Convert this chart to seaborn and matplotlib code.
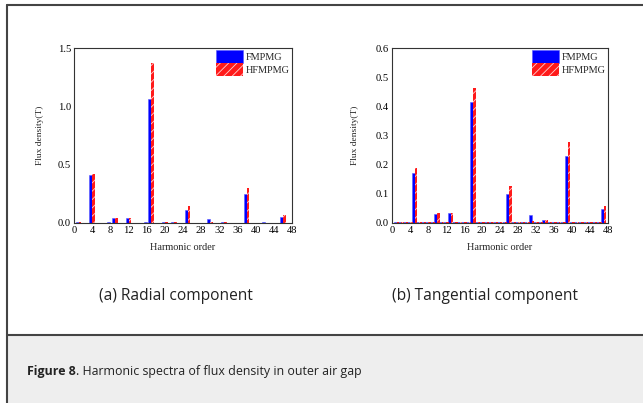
import numpy as np
import pandas as pd
import matplotlib
matplotlib.use("Agg")
import matplotlib.pyplot as plt
import seaborn as sns
from matplotlib.patches import Rectangle, Patch
from matplotlib.lines import Line2D
from matplotlib.ticker import MultipleLocator, FormatStrFormatter

# ---------------- data ----------------
harmonics = list(range(1, 48))

radial_fmpmg = [0.008, 0.003, 0.002, 0.415, 0.003, 0.004, 0.002, 0.006, 0.040, 0.004,
                0.002, 0.043, 0.003, 0.004, 0.002, 0.006, 1.064, 0.004, 0.002, 0.006,
                0.002, 0.005, 0.002, 0.004, 0.109, 0.003, 0.002, 0.004, 0.003, 0.032,
                0.002, 0.003, 0.012, 0.003, 0.002, 0.004, 0.003, 0.247, 0.003, 0.004,
                0.003, 0.005, 0.002, 0.004, 0.003, 0.054, 0.003]
radial_hfmpmg = [0.006, 0.003, 0.002, 0.420, 0.003, 0.003, 0.002, 0.004, 0.043, 0.003,
                 0.002, 0.040, 0.003, 0.003, 0.002, 0.004, 1.375, 0.003, 0.002, 0.005,
                 0.002, 0.006, 0.002, 0.003, 0.143, 0.003, 0.002, 0.003, 0.003, 0.005,
                 0.002, 0.003, 0.010, 0.003, 0.002, 0.003, 0.003, 0.301, 0.003, 0.003,
                 0.003, 0.004, 0.002, 0.003, 0.003, 0.067, 0.003]

tangential_fmpmg = [0.002, 0.002, 0.002, 0.003, 0.170, 0.003, 0.002, 0.003, 0.003, 0.030,
                    0.002, 0.003, 0.033, 0.002, 0.003, 0.002, 0.003, 0.414, 0.002, 0.005,
                    0.002, 0.004, 0.004, 0.002, 0.003, 0.100, 0.003, 0.004, 0.002, 0.004,
                    0.028, 0.003, 0.002, 0.011, 0.002, 0.003, 0.002, 0.003, 0.231, 0.003,
                    0.002, 0.004, 0.002, 0.004, 0.002, 0.004, 0.049]
tangential_hfmpmg = [0.002, 0.004, 0.002, 0.002, 0.187, 0.004, 0.002, 0.003, 0.005, 0.036,
                     0.002, 0.003, 0.036, 0.002, 0.003, 0.002, 0.003, 0.462, 0.002, 0.003,
                     0.002, 0.004, 0.004, 0.002, 0.003, 0.127, 0.004, 0.005, 0.002, 0.005,
                     0.008, 0.003, 0.002, 0.009, 0.002, 0.003, 0.002, 0.004, 0.279, 0.004,
                     0.002, 0.005, 0.002, 0.005, 0.002, 0.005, 0.057]

series_names = ["FMPMG", "HFMPMG"]
series_colors = {"FMPMG": "#0000ff", "HFMPMG": "#ff1a1a"}

x_ticks = list(range(0, 49, 4))
radial_yticks = [0.0, 0.5, 1.0, 1.5]
tangential_yticks = [0.0, 0.1, 0.2, 0.3, 0.4, 0.5, 0.6]

caption_bold = "Figure 8"
caption_rest = ". Harmonic spectra of flux density in outer air gap"
sub_a = "(a) Radial component"
sub_b = "(b) Tangential component"

# ---------------- figure ----------------
sns.set_style("white")
plt.rcParams["font.family"] = ["Liberation Serif", "DejaVu Serif"]
plt.rcParams["hatch.linewidth"] = 0.6

W, H = 643, 403
fig = plt.figure(figsize=(W / 100, H / 100), dpi=100)
fig.patch.set_facecolor("white")


def fx(x):
    return x / W


def fy(y):
    return 1 - y / H


# caption background and frame
fig.add_artist(Rectangle((fx(8), 0), 1 - fx(8), fy(335), transform=fig.transFigure,
                         facecolor="#eeeeee", edgecolor="none", zorder=0))
frame_kw = dict(transform=fig.transFigure, color="#444444", linewidth=1.5, zorder=5)
fig.add_artist(Line2D([fx(7), fx(7)], [0, fy(5)], **frame_kw))
fig.add_artist(Line2D([fx(7), 1], [fy(5), fy(5)], **frame_kw))
fig.add_artist(Line2D([fx(7), 1], [fy(335), fy(335)], **frame_kw))


def make_df(vals_a, vals_b):
    return pd.DataFrame({
        "Harmonic": harmonics * 2,
        "Flux": list(vals_a) + list(vals_b),
        "Series": [series_names[0]] * len(harmonics) + [series_names[1]] * len(harmonics),
    })


def draw_panel(rect, vals_a, vals_b, ymax, yticks, ylabel_x):
    left, top, right, bottom = rect
    ax = fig.add_axes([fx(left), fy(bottom), fx(right - left), (bottom - top) / H])
    df = make_df(vals_a, vals_b)
    sns.barplot(data=df, x="Harmonic", y="Flux", hue="Series", native_scale=True,
                palette=series_colors, width=1.25, dodge=True, errorbar=None,
                saturation=1, linewidth=0, legend=False, ax=ax)
    for p in ax.containers[0]:
        p.set_edgecolor("#5a5aff")
        p.set_linewidth(0.4)
    for p in ax.containers[1]:
        p.set_hatch("////")
        p.set_edgecolor("#ffd0d0")
        p.set_linewidth(0)
    ax.set_xlim(0, 48)
    ax.set_ylim(0, ymax)
    ax.set_xticks(x_ticks)
    ax.set_xticklabels([str(t) for t in x_ticks])
    ax.set_yticks(yticks)
    ax.yaxis.set_major_formatter(FormatStrFormatter("%.1f"))
    ax.xaxis.set_minor_locator(MultipleLocator(2))
    ax.yaxis.set_minor_locator(MultipleLocator(yticks[1] / 2))
    ax.tick_params(which="both", direction="in", labelsize=7.6, pad=2,
                   top=False, right=False, colors="#222222", labelcolor="black")
    ax.tick_params(which="major", length=3.5, width=0.6)
    ax.tick_params(which="minor", length=2, width=0.5)
    for s in ax.spines.values():
        s.set_color("#333333")
        s.set_linewidth(0.8)
        s.set_visible(True)
    ax.set_xlabel("Harmonic order", fontsize=7.4)
    ax.set_ylabel("Flux density(T)", fontsize=6.8)
    ax.xaxis.set_label_coords(0.5, -0.115)
    ax.yaxis.set_label_coords((ylabel_x - left) / (right - left), 0.5)
    handles = [Patch(facecolor=series_colors["FMPMG"], edgecolor="#5a5aff", linewidth=0.4),
               Patch(facecolor=series_colors["HFMPMG"], edgecolor="#ffd0d0", hatch="////",
                     linewidth=0)]
    ax.legend(handles, series_names, loc="upper right", frameon=False, fontsize=7.4,
              handlelength=2.7, handleheight=1.5, handletextpad=0.25, labelspacing=0.05,
              borderaxespad=0.1, borderpad=0.1)
    return ax


draw_panel((74, 48, 292, 223), radial_fmpmg, radial_hfmpmg, 1.5, radial_yticks, 44)
draw_panel((392, 48, 608, 223), tangential_fmpmg, tangential_hfmpmg, 0.6,
           tangential_yticks, 359)

# subtitles
sub_kw = dict(family=["Open Sans", "DejaVu Sans"], fontsize=11.2, color="#222222",
              ha="center", va="center")
fig.text(fx(176), fy(296), sub_a, **sub_kw)
fig.text(fx(485), fy(296), sub_b, **sub_kw)

# caption
cap_kw = dict(family=["Open Sans", "DejaVu Sans"], fontsize=8.9, color="#222222",
              va="center", ha="left")
t1 = fig.text(fx(27), fy(371), caption_bold, fontweight="bold", **cap_kw)
fig.canvas.draw()
bb = t1.get_window_extent(renderer=fig.canvas.get_renderer())
fig.text(bb.x1 / W, fy(371), caption_rest, **cap_kw)

fig.savefig("out.png", dpi=100)
